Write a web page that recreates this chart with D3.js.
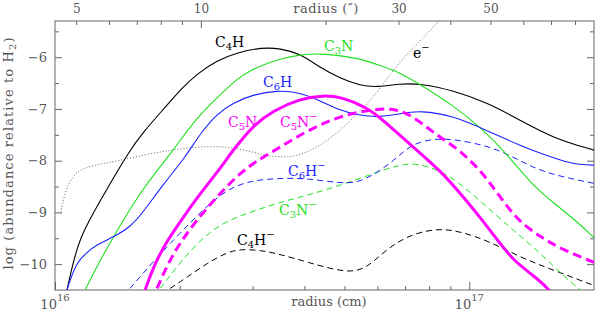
<!DOCTYPE html>
<html>
<head>
<meta charset="utf-8">
<script src="https://cdn.jsdelivr.net/npm/d3@7"></script>
<style>
  body { margin: 0; background: #fff; }
  svg { display: block; font-family: "DejaVu Serif", serif; }
</style>
</head>
<body>
<svg id="chart"></svg>
<script>
// radius in units of 1e16 cm, abundance as log10 relative to H2
const c4hR = [1.069, 1.105, 1.149, 1.235, 1.358, 1.517, 1.623, 1.844, 2.028, 2.204, 2.463, 2.754, 3.160, 3.495, 3.905, 4.364, 4.878, 5.454, 5.996, 6.808, 7.610, 9.140, 11.05, 13.29, 15.99, 20.07];
const c4hY = [-10.50, -9.98, -9.50, -9.02, -8.44, -7.80, -7.47, -6.97, -6.59, -6.32, -6.06, -5.91, -5.81, -5.83, -5.93, -6.20, -6.41, -6.55, -6.58, -6.51, -6.51, -6.64, -6.88, -7.22, -7.57, -7.80];

const c3nR = [1.182, 1.284, 1.412, 1.578, 1.763, 1.928, 2.204, 2.463, 2.754, 2.963, 3.130, 3.495, 3.905, 4.364, 4.878, 5.454, 6.097, 6.808, 7.610, 8.988, 10.75, 12.23, 14.06, 15.99, 18.28, 20.07];
const c3nY = [-10.50, -9.93, -9.35, -8.71, -8.19, -7.80, -7.16, -6.78, -6.41, -6.26, -6.17, -6.03, -5.95, -5.93, -5.97, -6.03, -6.16, -6.30, -6.53, -6.89, -7.38, -7.84, -8.44, -8.82, -9.19, -9.50];

const c6hR = [1.069, 1.087, 1.130, 1.195, 1.263, 1.381, 1.517, 1.631, 1.823, 2.061, 2.243, 2.463, 2.691, 3.015, 3.437, 3.905, 4.364, 4.878, 5.454, 6.097, 6.808, 7.610, 9.140, 11.05, 13.29, 14.87, 16.61, 18.03, 20.07];
const c6hY = [-10.50, -10.31, -9.96, -9.77, -9.62, -9.48, -9.29, -9.00, -8.46, -7.94, -7.47, -7.09, -6.88, -6.72, -6.64, -6.68, -6.84, -7.03, -7.13, -7.16, -7.09, -7.03, -7.13, -7.42, -7.71, -7.86, -7.99, -8.07, -8.09];

const c5nR = [1.650, 1.725, 1.865, 2.039, 2.204, 2.463, 2.676, 2.802, 3.015, 3.364, 3.905, 4.436, 4.878, 5.670, 6.199, 7.322, 8.506, 9.504, 10.64, 11.70, 12.79, 14.06, 15.54, 16.22];
const c5nY = [-10.50, -10.06, -9.54, -9.10, -8.71, -8.23, -7.82, -7.63, -7.32, -7.03, -6.80, -6.74, -6.76, -6.97, -7.22, -7.74, -8.19, -8.63, -9.10, -9.54, -9.93, -10.18, -10.47, -10.70];

const c5nmR = [1.763, 1.865, 2.004, 2.243, 2.504, 2.802, 3.130, 3.495, 4.061, 4.878, 5.864, 6.448, 7.081, 7.923, 8.506, 9.504, 11.05, 12.79, 14.87, 16.89, 20.07];
const c5nmY = [-10.47, -10.02, -9.58, -9.06, -8.63, -8.23, -7.96, -7.74, -7.42, -7.13, -7.01, -6.99, -7.07, -7.36, -7.55, -7.80, -8.32, -9.10, -9.48, -9.73, -9.97];

const c6hmR = [1.517, 1.744, 2.004, 2.243, 2.574, 2.963, 3.495, 4.061, 4.878, 5.454, 6.097, 6.706, 7.283, 8.277, 9.251, 11.05, 12.57, 14.06, 15.99, 20.07];
const c6hmY = [-10.47, -9.91, -9.40, -9.00, -8.57, -8.38, -8.34, -8.34, -8.44, -8.42, -8.19, -7.94, -7.67, -7.57, -7.59, -7.71, -7.90, -8.11, -8.28, -8.44];

const c3nmR = [1.793, 1.982, 2.243, 2.574, 2.963, 3.364, 4.061, 4.878, 5.864, 6.808, 7.486, 8.506, 9.504, 11.05, 12.79, 14.87, 16.61, 18.54];
const c3nmY = [-10.47, -10.02, -9.52, -9.17, -9.00, -8.84, -8.67, -8.48, -8.25, -8.07, -8.05, -8.19, -8.44, -8.90, -9.35, -9.79, -10.18, -10.50];

const c4hmR = [1.896, 2.085, 2.331, 2.603, 2.802, 3.130, 3.495, 4.061, 5.070, 5.670, 6.341, 7.322, 8.506, 9.504, 11.05, 13.29, 15.99, 19.96];
const c4hmY = [-10.47, -10.25, -9.98, -9.77, -9.71, -9.73, -9.81, -9.96, -10.18, -10.08, -9.69, -9.40, -9.31, -9.37, -9.54, -9.87, -10.12, -10.41];

const elecR = [1.034, 1.040, 1.069, 1.130, 1.235, 1.412, 1.696, 2.039, 2.368, 2.646, 2.963, 3.306, 3.698, 4.061, 4.436, 4.878, 5.363, 5.864, 6.448, 7.081, 7.749, 8.374, 8.744];
const elecY = [-9.00, -8.86, -8.48, -8.19, -8.09, -8.01, -7.86, -7.76, -7.72, -7.74, -7.82, -7.92, -7.94, -7.84, -7.67, -7.42, -7.09, -6.78, -6.32, -5.93, -5.62, -5.33, -5.20];

// tick values
const cmPerArcsec = 2.25e15;
const arcTicks = [5, 6, 7, 8, 9, 10, 20, 30, 40, 50, 60, 70, 80];
const arcLabels = [5, 10, 30, 50];
const xTicks = [1, 2, 3, 4, 5, 6, 7, 8, 9, 10];   // x 1e16 cm
const yTicks = [-10, -9.5, -9, -8.5, -8, -7.5, -7, -6.5, -6, -5.5];

const width = 595, height = 311;
const margin = { top: 21, right: 1, bottom: 21, left: 55 };

const svg = d3.select('#chart')
  .attr('width', width)
  .attr('height', height);

const x = d3.scaleLog()
  .domain([1e16, 2e17])
  .range([margin.left, width - margin.right]);

const y = d3.scaleLinear()
  .domain([-10.5, -5.3])
  .range([height - margin.bottom, margin.top]);

const axisGrey = '#666';
const textGrey = '#555';

function styleAxis(g) {
  g.select('.domain').remove();
  g.attr('font-family', null).attr('font-size', null);
  g.selectAll('.tick line').attr('stroke', axisGrey);
  g.selectAll('.tick text').attr('fill', textGrey).style('font-size', '13px');
}

// bottom axis (cm)
svg.append('g')
  .attr('transform', `translate(0,${height - margin.bottom})`)
  .call(d3.axisBottom(x).tickValues(xTicks.map(d => d * 1e16)).tickSize(-4).tickFormat(''))
  .call(styleAxis)
  .selectAll('.tick line')
    .attr('y2', d => (d === 1e16 || d === 1e17) ? -8 : -4);

// top axis (arcsec)
svg.append('g')
  .attr('transform', `translate(0,${margin.top})`)
  .call(d3.axisTop(x)
    .tickValues(arcTicks.map(d => d * cmPerArcsec))
    .tickSize(-4)
    .tickPadding(8)
    .tickFormat(d => {
      let a = Math.round(d / cmPerArcsec);
      return arcLabels.includes(a) ? a : '';
    }))
  .call(styleAxis)
  .call(g => g.selectAll('.tick text').style('font-size', '12px'))
  .selectAll('.tick line')
    .attr('y2', d => Math.round(d / cmPerArcsec) === 10 ? 7 : 4);

// left axis
svg.append('g')
  .attr('transform', `translate(${margin.left},0)`)
  .call(d3.axisLeft(y)
    .tickValues(yTicks)
    .tickSize(-4)
    .tickPadding(8)
    .tickFormat(d => Number.isInteger(d) ? d3.format('d')(d) : ''))
  .call(styleAxis)
  .selectAll('.tick line')
    .attr('x2', d => Number.isInteger(d) ? 7 : 4);

// right axis
svg.append('g')
  .attr('transform', `translate(${width - margin.right},0)`)
  .call(d3.axisRight(y).tickValues(yTicks).tickSize(-4).tickFormat(''))
  .call(styleAxis)
  .selectAll('.tick line')
    .attr('x2', d => Number.isInteger(d) ? -7 : -4);

// frame
svg.append('rect')
  .attr('x', margin.left)
  .attr('y', margin.top)
  .attr('width', width - margin.left - margin.right)
  .attr('height', height - margin.top - margin.bottom)
  .attr('fill', 'none')
  .attr('stroke', axisGrey);

// axis titles
svg.append('text')
  .attr('x', 329).attr('y', 306)
  .attr('text-anchor', 'middle')
  .attr('fill', textGrey)
  .style('font-size', '13px')
  .text('radius (cm)');

svg.append('text')
  .attr('x', 326).attr('y', 13)
  .attr('text-anchor', 'middle')
  .attr('fill', textGrey)
  .style('font-size', '13px')
  .style('letter-spacing', '0.5px')
  .text('radius (\u2033)');

// 10^16, 10^17
[1e16, 1e17].forEach(v => {
  let t = svg.append('text')
    .attr('x', x(v)).attr('y', 309)
    .attr('text-anchor', 'middle')
    .attr('fill', textGrey)
    .style('font-size', '13px');
  t.append('tspan').text('10');
  t.append('tspan').attr('dy', -8).style('font-size', '10px').text(Math.round(Math.log10(v)));
});

let ylab = svg.append('text')
  .attr('transform', 'translate(13,153) rotate(-90)')
  .attr('text-anchor', 'middle')
  .attr('fill', textGrey)
  .style('font-size', '13px')
  .style('letter-spacing', '1.1px');
ylab.append('tspan').text('log (abundance relative to H');
ylab.append('tspan').attr('dy', 3).style('font-size', '10px').text('2');
ylab.append('tspan').attr('dy', -3).text(')');

// curves
svg.append('clipPath').attr('id', 'plot-clip')
  .append('rect')
  .attr('x', margin.left).attr('y', margin.top)
  .attr('width', width - margin.left - margin.right)
  .attr('height', height - margin.top - margin.bottom);

const green = '#1fe01f', blue = '#1a22ff', magenta = '#ff00ff';

const series = [
  { r: elecR, v: elecY, color: '#666', width: 1, dash: '1,2' },
  { r: c4hmR, v: c4hmY, color: '#000', width: 1, dash: '6,4' },
  { r: c3nmR, v: c3nmY, color: green, width: 1, dash: '6,4' },
  { r: c6hmR, v: c6hmY, color: blue, width: 1, dash: '6,4' },
  { r: c4hR, v: c4hY, color: '#000', width: 1.1, dash: null },
  { r: c3nR, v: c3nY, color: green, width: 1.1, dash: null },
  { r: c6hR, v: c6hY, color: blue, width: 1.1, dash: null },
  { r: c5nmR, v: c5nmY, color: magenta, width: 3, dash: '9,5' },
  { r: c5nR, v: c5nY, color: magenta, width: 3, dash: null }
];

const line = d3.line()
  .x(d => x(d[0] * 1e16))
  .y(d => y(d[1]))
  .curve(d3.curveBasis);

svg.append('g')
  .attr('clip-path', 'url(#plot-clip)')
  .selectAll('path')
  .data(series)
  .join('path')
    .attr('d', s => line(s.r.map((r, i) => [r, s.v[i]])))
    .attr('fill', 'none')
    .attr('stroke', s => s.color)
    .attr('stroke-width', s => s.width)
    .attr('stroke-dasharray', s => s.dash);

// curve labels, placed by hand
const labels = [
  { base: 'C', sub: '4', rest: 'H', sup: '', x: 215, y: 47, color: '#000' },
  { base: 'C', sub: '3', rest: 'N', sup: '', x: 324, y: 51, color: green },
  { base: 'C', sub: '6', rest: 'H', sup: '', x: 263, y: 87, color: blue },
  { base: 'C', sub: '5', rest: 'N', sup: '', x: 228, y: 127, color: magenta },
  { base: 'C', sub: '5', rest: 'N', sup: '\u2212', x: 280, y: 127, color: magenta },
  { base: 'e', sub: '', rest: '', sup: '\u2212', x: 413, y: 58, color: '#000' },
  { base: 'C', sub: '6', rest: 'H', sup: '\u2212', x: 288, y: 176, color: blue },
  { base: 'C', sub: '3', rest: 'N', sup: '\u2212', x: 279, y: 215, color: green },
  { base: 'C', sub: '4', rest: 'H', sup: '\u2212', x: 237, y: 245, color: '#000' }
];

labels.forEach(l => {
  let t = svg.append('text')
    .attr('x', l.x).attr('y', l.y)
    .attr('fill', l.color)
    .style('font-size', '14px');
  t.append('tspan').text(l.base);
  if (l.sub) {
    t.append('tspan').attr('dy', 3).style('font-size', '10px').text(l.sub);
    t.append('tspan').attr('dy', -3).text(l.rest);
  }
  if (l.sup) {
    t.append('tspan').attr('dy', -7).style('font-size', '10px').text(l.sup);
  }
});
</script>
</body>
</html>
